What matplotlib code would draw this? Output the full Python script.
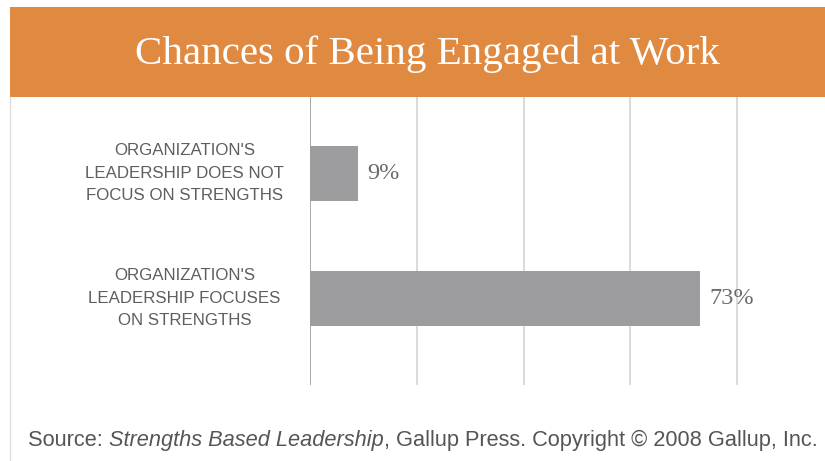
import numpy as np
import matplotlib.pyplot as plt
from matplotlib.patches import Rectangle

# datos del grafico
categorias = ["ORGANIZATION'S\nLEADERSHIP FOCUSES\nON STRENGTHS",
              "ORGANIZATION'S\nLEADERSHIP DOES NOT\nFOCUS ON STRENGTHS"]
valores = [73, 9]
ticks_x = [0, 20, 40, 60, 80]

titulo = 'Chances of Being Engaged at Work'
fuente = [('Source: ', 'normal'), ('Strengths Based Leadership', 'italic'),
          (', Gallup Press. Copyright \u00a9 2008 Gallup, Inc.', 'normal')]

W, H = 825, 461
fig = plt.figure(figsize=(W / 100, H / 100), dpi=100)
fig.patch.set_facecolor('white')

# banda naranja del titulo
fig.patches.append(Rectangle((10 / W, 1 - 97 / H), 1 - 10 / W, 90 / H,
                             transform=fig.transFigure, facecolor='#DF8941',
                             edgecolor='none', zorder=0))
fig.lines.append(plt.Line2D([10 / W, 10 / W], [0, 1 - 97 / H], transform=fig.transFigure,
                            color='#dddddd', lw=1))
fig.text(427 / W, 1 - 54 / H, titulo, color='white', fontsize=29.5,
         family='Liberation Serif', ha='center', va='center')

# ejes
left, top, bottom = 310, 97, 385
ax = fig.add_axes([left / W, 1 - bottom / H, (W - left) / W, (bottom - top) / H])
y = np.arange(len(valores))
ax.barh(y, valores, height=0.44, color='#9D9DA0', zorder=2)
ax.set_xlim(0, (W - left) / 5.34)
ax.set_ylim(-0.696, 1.608)
for t in ticks_x:
    ax.axvline(t, color='#999999' if t == 0 else '#d4d4d4', lw=1.2, zorder=1)
for s in ax.spines.values():
    s.set_visible(False)
ax.set_xticks([])
ax.set_yticks([])
ax.patch.set_alpha(0)

for yi, v in zip(y, valores):
    ax.text(v + 1.7, yi, f'{v}%', va='center', ha='left', fontsize=17.5,
            family='Liberation Serif', color='#6b6b6b')

for yi, c in zip(y, categorias):
    ax.text(-23.5, yi, c, va='center', ha='center', fontsize=12.2, family='Liberation Sans',
            color='#5e5e5e', linespacing=1.6, transform=ax.transData)

# fuente con partes en cursiva
r = fig.canvas.get_renderer()
x = 28
for txt, estilo in fuente:
    t = fig.text(x / W, 1 - 440 / H, txt, fontsize=15.7, family='Liberation Sans',
                 style=estilo, color='#555555', va='center', ha='left')
    x += t.get_window_extent(renderer=r).width

fig.savefig('out.png', dpi=100)
